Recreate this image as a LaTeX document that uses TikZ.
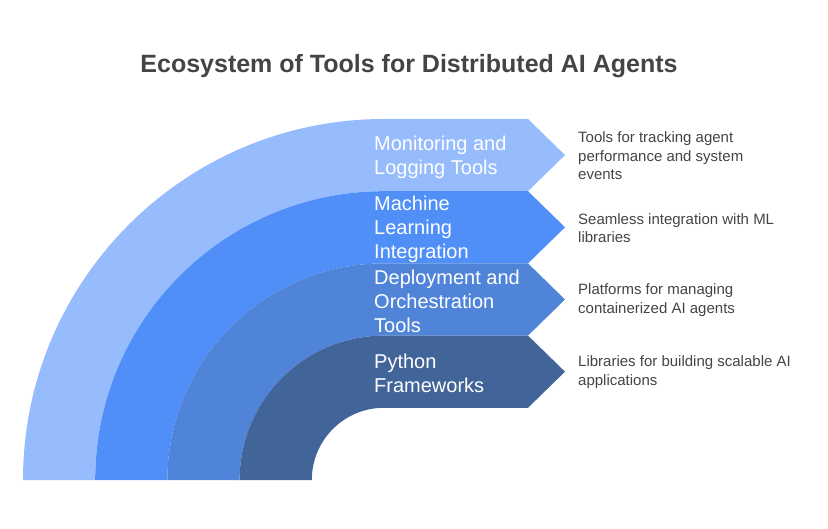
\documentclass[tikz,border=0pt]{standalone}
\usepackage{fontspec}
\setmainfont{Liberation Sans}
\definecolor{bandA}{HTML}{96BCFE}
\definecolor{bandB}{HTML}{4F8FF7}
\definecolor{bandC}{HTML}{4F84D9}
\definecolor{bandD}{HTML}{426599}
\definecolor{textgray}{HTML}{444444}

\begin{document}
\begin{tikzpicture}[x=1pt,y=1pt,
label/.style ={anchor=west ,align=left ,text=white ,inner sep=0pt ,
font=\fontsize{20}{24}\selectfont},
desc/.style ={anchor=west ,align=left ,text=textgray ,inner sep=0pt ,
font=\fontsize{15}{18.5}\selectfont}]
\useasboundingbox (0,0) rectangle (828,528);
\node[font=\bfseries\fontsize{25}{29}\selectfont, text=textgray] (title) at (409,462)
  {Ecosystem of Tools for Distributed AI Agents};
% quarter bands with arrow ends, outer to inner
\foreach \k/\col in {5/bandA,4/bandB,3/bandC,2/bandD}{
  \pgfmathsetmacro\rout{72.2*\k}
  \pgfmathsetmacro\rin{72.2*(\k-1)}
  \pgfmathsetmacro\rmid{(\rout+\rin)/2}
  \fill[\col] (384-\rout,48) arc (180:90:\rout) -- (528,48+\rout)
    -- (565,48+\rmid) -- (528,48+\rin) -- (384,48+\rin) arc (90:180:\rin) -- cycle;
}
\node[label] (monitor) at (374,371) {Monitoring and\\Logging Tools};
\node[label] (ml) at (374,299) {Machine\\Learning\\Integration};
\node[label] (deploy) at (374,227) {Deployment and\\Orchestration\\Tools};
\node[label] (python) at (374,155) {Python\\Frameworks};
\node[desc] (monitordesc) at (578,372) {Tools for tracking agent\\performance and system\\events};
\node[desc] (mldesc) at (578,300) {Seamless integration with ML\\libraries};
\node[desc] (deploydesc) at (578,228) {Platforms for managing\\containerized AI agents};
\node[desc] (pythondesc) at (578,156) {Libraries for building scalable AI\\applications};
\end{tikzpicture}
\end{document}
